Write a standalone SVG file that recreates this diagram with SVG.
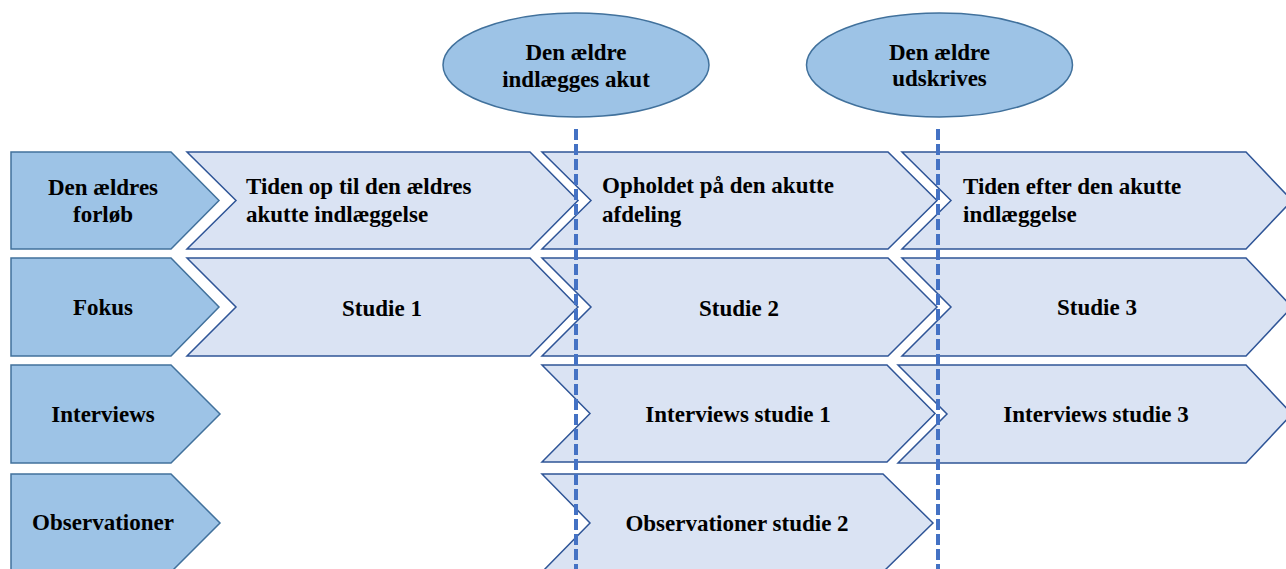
<svg xmlns="http://www.w3.org/2000/svg" width="1286" height="569" viewBox="0 0 1286 569">
<style>
.lab{fill:#9DC3E6;stroke:#41719C;stroke-width:1.5}
.chev{fill:#DAE3F3;stroke:#2F5597;stroke-width:1.5}
.ell{fill:#9DC3E6;stroke:#41719C;stroke-width:1.5}
text{font-family:"Liberation Serif","Times New Roman",serif;font-weight:bold;font-size:23px;fill:#000}
.c{text-anchor:middle}
.dash{stroke:#4472C4;stroke-width:4;stroke-dasharray:11 4;fill:none}
</style>
<rect width="1286" height="569" fill="#fff"/>
<g id="row-labels">
<g id="lab-forloeb"><polygon class="lab" points="11,152 171,152 219,200.5 171,249 11,249"/><text class="c" x="103" y="195">Den ældres</text><text class="c" x="103" y="222">forløb</text></g>
<g id="lab-fokus"><polygon class="lab" points="11,258 171,258 219,307 171,356 11,356"/><text class="c" x="103" y="315">Fokus</text></g>
<g id="lab-interviews"><polygon class="lab" points="11,365 171,365 220,414 171,463 11,463"/><text class="c" x="103" y="422">Interviews</text></g>
<g id="lab-observationer"><polygon class="lab" points="11,474 171,474 220,523 171,572 11,572"/><text class="c" x="103" y="530">Observationer</text></g>
</g>
<g id="row1">
<g id="c1r1"><polygon class="chev" points="187,152 530,152 578,200.5 530,249 187,249 236,200.5"/><text x="246" y="194">Tiden op til den ældres</text><text x="246" y="222">akutte indlæggelse</text></g>
<g id="c2r1"><polygon class="chev" points="542,152 888,152 937,200.5 888,249 542,249 591,200.5"/><text x="602" y="193">Opholdet på den akutte</text><text x="602" y="222">afdeling</text></g>
<g id="c3r1"><polygon class="chev" points="902,152 1246,152 1292,200.5 1246,249 902,249 951,200.5"/><text x="963" y="194">Tiden efter den akutte</text><text x="963" y="222">indlæggelse</text></g>
</g>
<g id="row2">
<g id="c1r2"><polygon class="chev" points="187,258 530,258 578,307 530,356 187,356 236,307"/><text class="c" x="382" y="316">Studie 1</text></g>
<g id="c2r2"><polygon class="chev" points="542,258 888,258 937,307 888,356 542,356 591,307"/><text class="c" x="739" y="316">Studie 2</text></g>
<g id="c3r2"><polygon class="chev" points="902,258 1246,258 1292,307 1246,356 902,356 951,307"/><text class="c" x="1097" y="315">Studie 3</text></g>
</g>
<g id="row3">
<g id="c2r3"><polygon class="chev" points="542,365 887,365 935,413.5 887,462 542,462 590,413.5"/><text class="c" x="738" y="422">Interviews studie 1</text></g>
<g id="c3r3"><polygon class="chev" points="898,365 1246,365 1292,414 1246,463 898,463 947,414"/><text class="c" x="1096" y="422">Interviews studie 3</text></g>
</g>
<g id="row4">
<g id="c2r4"><polygon class="chev" points="542,474 883,474 933,523 883,572 542,572 590,523"/><text class="c" x="737" y="531">Observationer studie 2</text></g>
</g>
<g id="events">
<g id="ev-indlaegges"><ellipse class="ell" cx="576" cy="65" rx="133" ry="52"/><text class="c" x="576" y="60">Den ældre</text><text class="c" x="576" y="87">indlægges akut</text></g>
<g id="ev-udskrives"><ellipse class="ell" cx="939.5" cy="65" rx="133" ry="52"/><text class="c" x="939.5" y="60">Den ældre</text><text class="c" x="939.5" y="86">udskrives</text></g>
</g>
<g id="connectors">
<line class="dash" x1="576" y1="129" x2="576" y2="569"/>
<line class="dash" x1="938" y1="129" x2="938" y2="569"/>
</g>
</svg>
